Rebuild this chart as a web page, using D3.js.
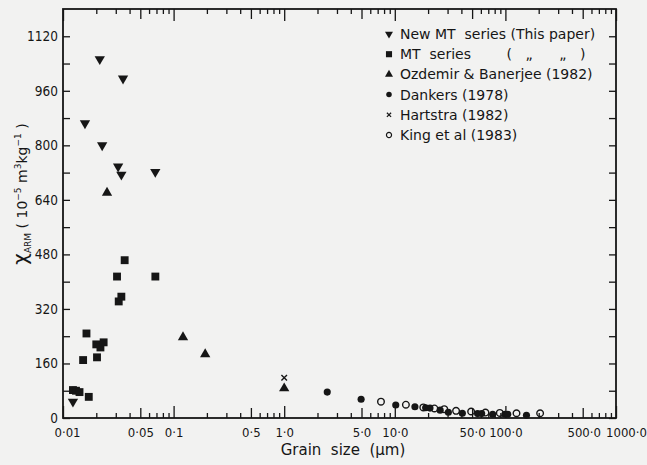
<!DOCTYPE html>
<html>
<head>
<meta charset="utf-8">
<script src="https://cdn.jsdelivr.net/npm/d3@7"></script>
<style>
  body { margin: 0; background: #f2f2f1; }
  #chart text { font-family: "DejaVu Sans", sans-serif; fill: #161616; }
  #chart .tick text { font-family: "DejaVu Sans Condensed", "DejaVu Sans", sans-serif; }
</style>
</head>
<body>
<div id="chart"></div>
<script>
// grain size (um), chi_ARM (1e-5 m3/kg)
const newMT = [
  [0.0123, 48], [0.0158, 865], [0.0215, 1053], [0.0226, 800],
  [0.0315, 738], [0.0337, 714], [0.0349, 996], [0.0683, 722]
];
const mtSeries = [
  [0.0123, 82], [0.0131, 80], [0.0141, 76], [0.0152, 170], [0.0163, 248],
  [0.0171, 62], [0.0200, 216], [0.0203, 178], [0.0218, 207], [0.0233, 222],
  [0.0308, 415], [0.0319, 342], [0.0337, 356], [0.0361, 463], [0.0684, 415]
];
const ozdemir = [[0.025, 661], [0.1216, 237], [0.193, 187], [1.0, 87]];
const dankers = [
  [2.45, 76], [4.96, 55], [10.2, 38], [15.2, 33], [19, 30], [20.8, 29],
  [25.7, 23], [30.5, 17], [40.8, 14], [56, 13], [61, 13], [76.7, 11],
  [99, 11], [105, 11], [155, 8]
];
const hartstra = [[1.0, 118]];
const king = [
  [7.5, 48], [12.6, 39], [18.1, 31], [22.8, 28], [28, 26], [35.8, 21],
  [49, 19], [66, 16], [89, 15], [126, 14], [206, 14]
];

const xTickValues = [0.01, 0.05, 0.1, 0.5, 1, 5, 10, 50, 100, 500, 1000];
const xTickLabels = ['0·01', '0·05', '0·1', '0·5', '1·0', '5·0', '10·0', '50·0', '100·0', '500·0', '1000·0'];
const yTickValues = [0, 160, 320, 480, 640, 800, 960, 1120];

const legendLabels = [
  'New MT  series (This paper)',
  'MT  series        (   „      „   )',
  'Ozdemir & Banerjee (1982)',
  'Dankers (1978)',
  'Hartstra (1982)',
  'King et al (1983)'
];

const ink = '#161616';

let dimensions = {
  width: 647,
  height: 465,
  margins: { top: 9, right: 31, bottom: 47, left: 63 }
};
dimensions.boundedWidth = dimensions.width - dimensions.margins.left - dimensions.margins.right;
dimensions.boundedHeight = dimensions.height - dimensions.margins.top - dimensions.margins.bottom;

const svg = d3.select('#chart')
  .append('svg')
    .attr('width', dimensions.width)
    .attr('height', dimensions.height);

const bounds = svg.append('g')
  .attr('transform', `translate(${dimensions.margins.left},${dimensions.margins.top})`);

const xScale = d3.scaleLog()
  .domain([0.01, 1000])
  .range([0, dimensions.boundedWidth]);

const yScale = d3.scaleLinear()
  .domain([0, 1200])
  .range([dimensions.boundedHeight, 0]);

// minor ticks 1..9 per decade
const minorTicks = [];
[0.01, 0.1, 1, 10, 100].forEach(dec => {
  for (let k = 1; k <= 9; k++) minorTicks.push(+(dec * k).toPrecision(3));
});
minorTicks.push(1000);
const tickLen = d => {
  const m = Math.round(d / Math.pow(10, Math.floor(Math.log10(d) + 1e-9)));
  if (m === 1) return 12;
  if (m === 5) return 10;
  return 5;
};

const styleAxis = g => {
  g.select('.domain').remove();
  g.selectAll('.tick line').attr('stroke', ink).attr('stroke-width', 1.3);
};

// bottom ticks (inside)
bounds.append('g')
  .attr('transform', `translate(0,${dimensions.boundedHeight})`)
  .call(d3.axisBottom(xScale).tickValues(minorTicks).tickFormat(''))
  .call(styleAxis)
  .call(g => g.selectAll('.tick line').attr('y2', d => -tickLen(d)));

// bottom labels - end labels nudged inward like the original print
bounds.append('g')
  .attr('transform', `translate(0,${dimensions.boundedHeight})`)
  .call(d3.axisBottom(xScale).tickValues(xTickValues).tickSize(0).tickPadding(10)
    .tickFormat((d, i) => xTickLabels[i]))
  .call(g => g.select('.domain').remove())
  .call(g => g.selectAll('text')
    .style('font-size', '13px')
    .attr('fill', ink)
    .attr('dx', d => d === 0.01 ? 4 : d === 1000 ? 10 : d === 500 ? 1 : 0));

// top ticks (inside)
bounds.append('g')
  .call(d3.axisTop(xScale).tickValues(minorTicks).tickFormat(''))
  .call(styleAxis)
  .call(g => g.selectAll('.tick line').attr('y2', d => tickLen(d)));

// left axis
bounds.append('g')
  .call(d3.axisLeft(yScale)
    .tickValues(d3.range(0, 1121, 80))
    .tickSizeInner(-7)
    .tickPadding(5)
    .tickFormat(d => yTickValues.includes(d) ? d : ''))
  .call(styleAxis)
  .call(g => g.selectAll('text').style('font-size', '13.5px').attr('fill', ink));

// right axis
bounds.append('g')
  .attr('transform', `translate(${dimensions.boundedWidth},0)`)
  .call(d3.axisRight(yScale).tickValues(d3.range(0, 1121, 80)).tickSizeInner(-7).tickFormat(''))
  .call(styleAxis);

// frame
bounds.append('rect')
  .attr('width', dimensions.boundedWidth)
  .attr('height', dimensions.boundedHeight)
  .attr('fill', 'none')
  .attr('stroke', ink)
  .attr('stroke-width', 1.8);

// series definitions
const series = [
  { data: newMT, symbol: d3.symbolTriangle, size: 46, rotate: 180, fill: ink, stroke: 'none' },
  { data: mtSeries, symbol: d3.symbolSquare, size: 62, rotate: 0, fill: ink, stroke: 'none' },
  { data: ozdemir, symbol: d3.symbolTriangle, size: 46, rotate: 0, fill: ink, stroke: 'none' },
  { data: dankers, symbol: d3.symbolCircle, size: 40, rotate: 0, fill: ink, stroke: 'none' },
  { data: hartstra, symbol: d3.symbolX, size: 22, rotate: 0, fill: 'none', stroke: ink },
  { data: king, symbol: d3.symbolCircle, size: 34, rotate: 0, fill: 'none', stroke: ink }
];

series.forEach(s => {
  bounds.append('g')
    .selectAll('path')
    .data(s.data)
    .join('path')
      .attr('d', d3.symbol(s.symbol, s.size))
      .attr('transform', d => `translate(${xScale(d[0])},${yScale(d[1])}) rotate(${s.rotate})`)
      .attr('fill', s.fill)
      .attr('stroke', s.stroke)
      .attr('stroke-width', 1.4);
});

// legend
const legend = bounds.append('g')
  .attr('transform', `translate(${389 - dimensions.margins.left},${34 - dimensions.margins.top})`);

series.forEach((s, i) => {
  const row = legend.append('g').attr('transform', `translate(0,${i * 20.2})`);
  row.append('path')
    .attr('d', d3.symbol(s.symbol, s.size * 0.6))
    .attr('transform', `rotate(${s.rotate})`)
    .attr('fill', s.fill)
    .attr('stroke', s.stroke)
    .attr('stroke-width', 1.2);
  row.append('text')
    .attr('x', 11)
    .attr('dy', '0.35em')
    .style('font-size', '14px')
    .style('white-space', 'pre')
    .text(legendLabels[i]);
});

// x label
svg.append('text')
  .attr('x', 343)
  .attr('y', 455)
  .attr('text-anchor', 'middle')
  .style('font-size', '15px')
  .style('white-space', 'pre')
  .text('Grain  size  (μm)');

// y label
const yLabel = svg.append('text')
  .attr('transform', 'translate(27,194) rotate(-90)')
  .attr('text-anchor', 'middle')
  .style('font-size', '14px');
yLabel.append('tspan').style('font-size', '20px').text('χ');
yLabel.append('tspan').attr('dy', 4).style('font-size', '9px').text('ARM');
yLabel.append('tspan').attr('dy', -4).text(' ( 10');
yLabel.append('tspan').attr('dy', -6).style('font-size', '9px').text('−5');
yLabel.append('tspan').attr('dy', 6).text(' m');
yLabel.append('tspan').attr('dy', -6).style('font-size', '9px').text('3');
yLabel.append('tspan').attr('dy', 6).text('kg');
yLabel.append('tspan').attr('dy', -6).style('font-size', '9px').text('−1');
yLabel.append('tspan').attr('dy', 6).text(' )');
</script>
</body>
</html>
